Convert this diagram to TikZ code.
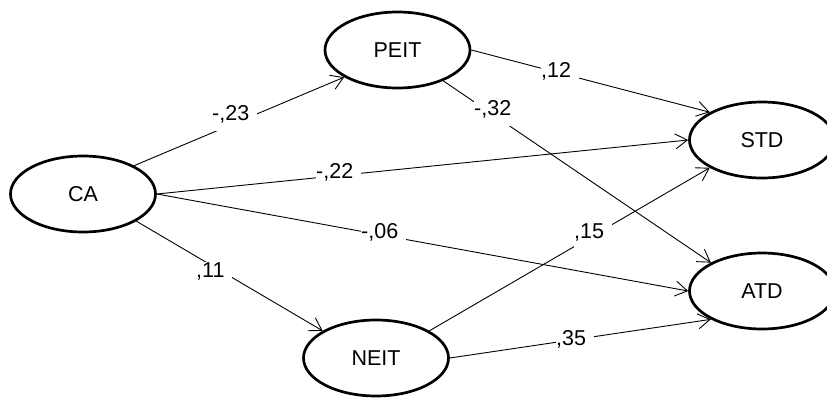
\documentclass[tikz,border=0pt]{standalone}
\usepackage{fontspec}
\setmainfont{Liberation Sans}
\usetikzlibrary{shapes.geometric,arrows.meta}
\begin{document}
\begin{tikzpicture}[x=1pt,y=-1pt,
  var/.style={ellipse, draw, line width=2.7pt, minimum width=145pt, minimum height=76pt, inner sep=0pt, font=\fontsize{21.5}{25}\selectfont},
  pathline/.style={line width=0.9pt, -{Straight Barb[length=12pt,width=15pt]}},
  lbl/.style={fill=white, inner sep=0pt, anchor=base west, text height=15pt, text depth=11pt, font=\fontsize{21.5}{25}\selectfont}]
\useasboundingbox (0,0) rectangle (827,397);
\node[var] (CA)   at (83,194)   {CA};
\node[var] (PEIT) at (397.5,50) {PEIT};
\node[var] (STD)  at (762,140)  {STD};
\node[var] (ATD)  at (762,291)  {ATD};
\node[var] (NEIT) at (376,358)  {NEIT};

\draw[pathline] (CA.29)    -- (PEIT.207);
\draw[pathline] (CA.east)  -- (STD.west);
\draw[pathline] (CA.east)  -- (ATD.west);
\draw[pathline] (CA.-27)   -- (NEIT.153);
\draw[pathline] (PEIT.east) -- (STD.152);
\draw[pathline] (PEIT.-34) -- (ATD.151);
\draw[pathline] (NEIT.27)  -- (STD.208);
\draw[pathline] (NEIT.east) -- (ATD.209);

\node[lbl] (l1) at (212,120) {-,23\kern8pt};
\node[lbl] (l2) at (316,178) {-,22\kern8pt};
\node[lbl] (l3) at (361,238) {-,06\kern8pt};
\node[lbl] (l4) at (196,277) {,11\kern8pt};
\node[lbl] (l5) at (541,77)  {,12\kern8pt};
\node[lbl] (l6) at (474,115) {-,32\kern8pt};
\node[lbl] (l7) at (574,238) {,15\kern8pt};
\node[lbl] (l8) at (556,345) {,35\kern8pt};
\end{tikzpicture}
\end{document}
